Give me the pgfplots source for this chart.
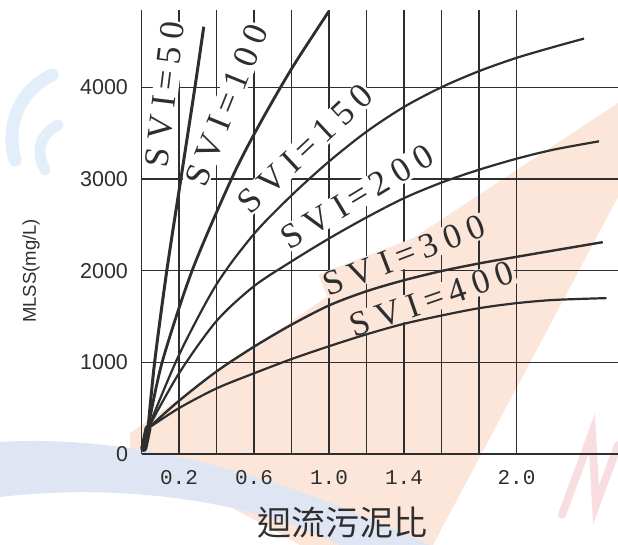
\documentclass[border=0pt]{standalone}
\usepackage{pgfplots}
\pgfplotsset{compat=1.18}
\usepackage{fontspec}
\setmainfont{Liberation Serif}
\newfontfamily\sansf{Liberation Sans}
\newfontfamily\monof{Liberation Mono}
\newfontfamily\cjk{Noto Sans CJK TC}
\newfontfamily\lblf[LetterSpace=22]{Liberation Serif}
\definecolor{wmo}{HTML}{FCE6DA}
\definecolor{wmb}{HTML}{DFE5F3}
\definecolor{wmc}{HTML}{E2EEF9}
\definecolor{wmp}{HTML}{F9DEE1}
\definecolor{ink}{HTML}{2E2E2E}
\begin{document}
\begin{tikzpicture}[x=1pt,y=1pt]
\path[use as bounding box] (0,0) rectangle (618,545);
% watermark
\fill[wmo] (130,112) -- (380,285) -- (618,442) -- (618,348) -- (433,0) -- (300,0) -- (130,93) -- cycle;
\fill[wmb] (0,103) .. controls (150,112) and (300,60) .. (430,0) -- (340,0) .. controls (250,45) and (120,62) .. (0,48) -- cycle;
\draw[wmc, line width=13pt, line cap=round] (52,470) .. controls (20,455) and (5,420) .. (15,385);
\draw[wmc, line width=11pt, line cap=round] (58,420) .. controls (40,410) and (35,395) .. (45,375);
\draw[wmp, line width=8pt, line cap=round] (562,30) -- (592,112) -- (596,40) -- (618,100);
\begin{axis}[
  at={(141.5pt,91pt)}, anchor=south west,
  scale only axis, width=476.25pt, height=443.8pt,
  xmin=0, xmax=2.54, ymin=0, ymax=4840,
  axis x line*=bottom, axis y line*=left,
  axis line style={line width=1.6pt, ink},
  xtick={0.2,0.4,0.6,0.8,1.0,1.2,1.4,1.6,1.8,2.0},
  xticklabels={0.2,,0.6,,1.0,,1.4,,,2.0},
  ytick={0,1000,2000,3000,4000},
  yticklabels={0,1000,2000,3000,4000},
  major tick length=0pt,
  grid=major,
  major grid style={line width=1.4pt, ink},
  xticklabel style={font=\monof\fontsize{21}{21}\selectfont, text=ink, yshift=-13pt},
  yticklabel style={font=\sansf\fontsize{21.5}{21.5}\selectfont, text=ink, xshift=-10pt},
  clip=false,
]
% curve labels (drawn first so curves lie on top)
\node[rotate=83, fill=white, inner sep=1pt, text=ink, font=\lblf\fontsize{35}{35}\selectfont] at (axis cs:0.125,3920) {SVI\,=\,50};
\node[rotate=68, fill=white, inner sep=1pt, text=ink, font=\lblf\fontsize{35}{35}\selectfont] at (axis cs:0.455,3806) {SVI\,=\,100};
\node[rotate=43, fill=white, inner sep=1pt, text=ink, font=\lblf\fontsize{35}{35}\selectfont] at (axis cs:0.872,3330) {SVI\,=\,150};
\node[rotate=31, fill=white, inner sep=1pt, text=ink, font=\lblf\fontsize{35}{35}\selectfont] at (axis cs:1.149,2805) {SVI\,=\,200};
\node[rotate=21, fill=wmo, inner sep=1pt, text=ink, font=\lblf\fontsize{35}{35}\selectfont] at (axis cs:1.40,2165) {SVI\,=\,300};
\node[rotate=19, fill=wmo, inner sep=1pt, text=ink, font=\lblf\fontsize{35}{35}\selectfont] at (axis cs:1.549,1690) {SVI\,=\,400};
% origin blob
\addplot[ink, line width=7pt, line cap=round] coordinates {(0.012,60) (0.035,280)};
% SVI = 50
\addplot[ink, line width=3pt, smooth] coordinates {
(0.035,280) (0.07,1000) (0.135,2000) (0.21,3000) (0.285,4000) (0.332,4660)};
% SVI = 100
\addplot[ink, line width=2.8pt, smooth] coordinates {
(0.035,280) (0.11,1000) (0.27,2000) (0.48,3000) (0.62,3560) (0.80,4200) (1.0,4830)};
% SVI = 150
\addplot[ink, line width=2.2pt, smooth] coordinates {
(0.035,280) (0.2,1080) (0.4,1850) (0.6,2400) (0.8,2820) (1.0,3190) (1.2,3515) (1.4,3785) (1.6,4000) (1.8,4175) (2.0,4320) (2.2,4440) (2.36,4530)};
% SVI = 200
\addplot[ink, line width=2.2pt, smooth] coordinates {
(0.035,280) (0.2,880) (0.4,1450) (0.6,1830) (0.8,2100) (1.0,2350) (1.2,2580) (1.4,2790) (1.6,2960) (1.8,3100) (2.0,3220) (2.2,3320) (2.44,3410)};
% SVI = 300
\addplot[ink, line width=2.4pt, smooth] coordinates {
(0.035,280) (0.2,580) (0.4,900) (0.6,1170) (0.8,1410) (1.0,1620) (1.2,1775) (1.4,1895) (1.6,1995) (1.8,2078) (2.0,2150) (2.2,2220) (2.46,2310)};
% SVI = 400
\addplot[ink, line width=2.2pt, smooth] coordinates {
(0.035,280) (0.2,500) (0.4,715) (0.6,880) (0.8,1035) (1.0,1175) (1.2,1305) (1.4,1420) (1.6,1510) (1.8,1590) (2.0,1645) (2.2,1680) (2.48,1700)};
\end{axis}
\node[rotate=90, text=ink, font=\sansf\fontsize{18.5}{18.5}\selectfont] at (31,274) {MLSS(mg/L)};
\node[text=ink, font=\cjk\fontsize{34}{34}\selectfont] at (342,22) {迴流污泥比};
\end{tikzpicture}
\end{document}
